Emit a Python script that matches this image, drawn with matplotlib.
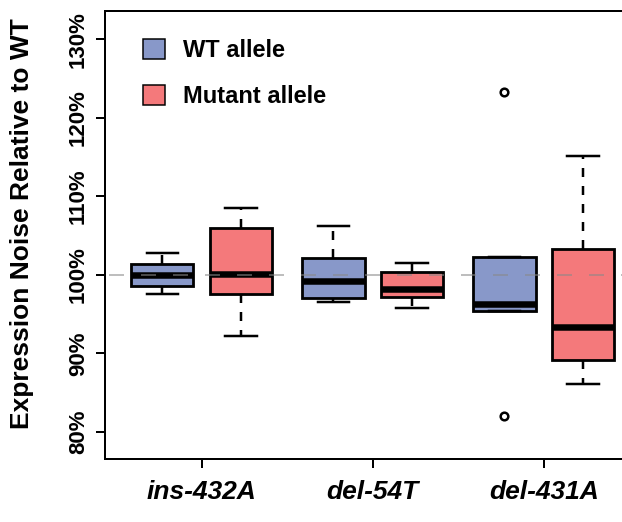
import matplotlib
matplotlib.use('Agg')
import matplotlib.pyplot as plt
from matplotlib.patches import Patch
from matplotlib.ticker import FuncFormatter

plt.rcParams['font.family'] = ['Liberation Sans', 'DejaVu Sans']
plt.rcParams['font.weight'] = 'bold'
plt.rcParams['lines.scale_dashes'] = False

# five-number summaries per allele, in % of WT noise
groups = ['ins-432A', 'del-54T', 'del-431A']

wt_lo = [97.6, 96.5, 95.4]
wt_q1 = [98.6, 97.1, 95.4]
wt_med = [100.0, 99.2, 96.3]
wt_q3 = [101.4, 102.1, 102.25]
wt_hi = [102.8, 106.15, 102.25]
wt_out = [[], [], [123.3, 82.0]]

mut_lo = [92.2, 95.8, 86.1]
mut_q1 = [97.5, 97.2, 89.2]
mut_med = [100.1, 98.2, 93.3]
mut_q3 = [105.9, 100.4, 103.3]
mut_hi = [108.5, 101.5, 115.15]
mut_out = [[], [], []]

y_ticks = [80, 90, 100, 110, 120, 130]

wt_color = '#8898c9'
mut_color = '#f4797b'


def make_stats(lo, q1, med, q3, hi, out):
    return [dict(whislo=a, q1=b, med=c, q3=d, whishi=e, fliers=f)
            for a, b, c, d, e, f in zip(lo, q1, med, q3, hi, out)]


px = 0.72  # one pixel in points at dpi 100

fig = plt.figure(figsize=(6.22, 5.22), dpi=100)
ax = fig.add_axes([0.1688, 0.1207, 0.84, 0.858])

centers = [1, 2, 3]
off = 0.23
width = 0.365

box_kw = dict(
    widths=width,
    patch_artist=True,
    boxprops=dict(linewidth=2.8 * px, edgecolor='black'),
    medianprops=dict(color='black', linewidth=6.5 * px, solid_capstyle='butt'),
    whiskerprops=dict(color='black', linewidth=2.5 * px,
                      linestyle=(0, (9 * px, 9 * px))),
    capprops=dict(color='black', linewidth=2.5 * px),
    flierprops=dict(marker='o', markerfacecolor='none', markeredgecolor='black',
                    markersize=5.5, markeredgewidth=1.8),
)

wt = ax.bxp(make_stats(wt_lo, wt_q1, wt_med, wt_q3, wt_hi, wt_out),
            positions=[c - off for c in centers], **box_kw)
mut = ax.bxp(make_stats(mut_lo, mut_q1, mut_med, mut_q3, mut_hi, mut_out),
             positions=[c + off for c in centers], **box_kw)
for b in wt['boxes']:
    b.set_facecolor(wt_color)
for b in mut['boxes']:
    b.set_facecolor(mut_color)

# reference line at 100%
ax.axhline(100, color='#888888', alpha=0.6, linewidth=1.8 * px, zorder=5,
           linestyle=(28 * px, (15 * px, 17 * px)))

ax.set_xlim(0.435, 3.49)
ax.set_ylim(76.56, 133.56)

ax.set_xticks(centers)
ax.set_xticklabels(groups, fontsize=19, style='italic', fontweight='bold')
ax.set_yticks(y_ticks)
ax.yaxis.set_major_formatter(FuncFormatter(lambda v, p: '%d%%' % v))
for lab in ax.get_yticklabels():
    lab.set_rotation(90)
    lab.set_va('center')
    lab.set_fontsize(16)

ax.tick_params(axis='both', length=9 * px, width=2 * px, color='black')
ax.tick_params(axis='x', pad=9)
ax.tick_params(axis='y', pad=5)

for s in ['left', 'top', 'bottom']:
    ax.spines[s].set_linewidth(2 * px)
ax.spines['right'].set_visible(False)

ax.set_ylabel('Expression Noise Relative to WT', fontsize=19, fontweight='bold')
ax.yaxis.set_label_coords(-0.136, 0.525)

handles = [Patch(facecolor=wt_color, edgecolor='black', linewidth=1.5 * px),
           Patch(facecolor=mut_color, edgecolor='black', linewidth=1.5 * px)]
ax.legend(handles, ['WT allele', 'Mutant allele'], loc='upper left',
          bbox_to_anchor=(0.032, 0.985), frameon=False, fontsize=17,
          handlelength=0.95, handleheight=0.95, handletextpad=0.75,
          labelspacing=0.95)

fig.savefig('out.png', dpi=100)
